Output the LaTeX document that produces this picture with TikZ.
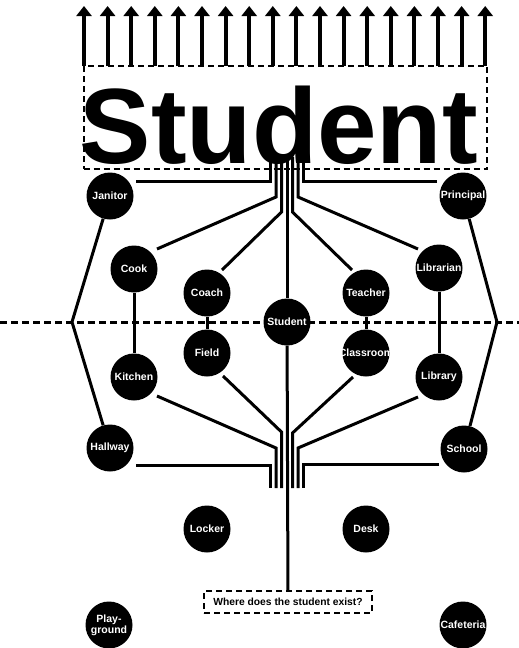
\documentclass[tikz,border=0pt]{standalone}
\usepackage{fontspec}
\setsansfont{Liberation Sans}
\usetikzlibrary{arrows.meta}

\begin{document}
\begin{tikzpicture}[
  x=1pt, y=-1pt,
  place/.style={circle, fill=black, minimum size=47pt, inner sep=0pt, text=white,
    font=\sffamily\bfseries\fontsize{10.5}{11}\selectfont, align=center},
  wire/.style={line width=3pt},
  dashbox/.style={draw, line width=2pt, dash pattern=on 6pt off 4pt, inner sep=0pt, outer sep=0pt},
  uparrow/.style={line width=4pt, -{Triangle[width=15pt, length=10pt]}}
]
\useasboundingbox (0,0) rectangle (519,648);

% Title with arrows
\node[dashbox, minimum width=403.5pt, minimum height=103pt] (titlebox) at (285.25,117.5) {};
\node[anchor=base west, inner sep=0pt, font=\sffamily\bfseries\fontsize{107}{107}\selectfont] (title) at (79.5,163.5) {Student};
\foreach \i in {0,...,17}
  \draw[uparrow] ([xshift=\i*23.6pt+0.5pt]titlebox.north west) -- ++(0,-60);

% Dashed middle line
\draw[line width=3pt, dash pattern=on 7pt off 4pt] (0,322) -- (519,322);

% People and places
\node[place] (janitor) at (110,196) {Janitor};
\node[place] (principal) at (463,196) {\makebox[0pt]{Principal}};
\node[place] (cook) at (134,269) {Cook};
\node[place] (librarian) at (439,268) {\makebox[0pt]{Librarian}};
\node[place] (coach) at (207,293) {Coach};
\node[place] (teacher) at (366,293) {Teacher};
\node[place] (student) at (287,322) {Student};
\node[place] (field) at (207,353) {Field};
\node[place] (classroom) at (366,353) {\makebox[0pt]{Classroom}};
\node[place] (kitchen) at (134,377) {Kitchen};
\node[place] (library) at (439,377) {Library};
\node[place] (hallway) at (110,448) {Hallway};
\node[place] (school) at (464,449) {School};
\node[place] (locker) at (207,529) {Locker};
\node[place] (desk) at (366,529) {Desk};
\node[place] (playground) at (109,625) {Play-\\ground};
\node[place] (cafeteria) at (463,625) {\makebox[0pt]{Cafeteria}};

\node[dashbox, minimum width=168pt, minimum height=22pt,
  font=\sffamily\bfseries\fontsize{10.3}{12}\selectfont] (question) at (288,602) {Where does the student exist?};

% Outer frame
\coordinate (pl) at (72,322);
\coordinate (pr) at (497,322);
\draw[wire] (janitor) -- (pl) -- (hallway);
\draw[wire] (principal) -- (pr) -- (school);

% Pairs
\draw[wire] (cook) -- (kitchen);
\draw[wire] (coach) -- (field);
\draw[wire] (teacher) -- (classroom);
\draw[wire] (librarian) -- (library);

% Top bus
\coordinate (t1) at (270.5,157);
\coordinate (t2) at (276,157);
\coordinate (t3) at (281.5,157);
\coordinate (t4) at (287,157);
\coordinate (t5) at (292.5,157);
\coordinate (t6) at (298,157);
\coordinate (t7) at (303.5,157);
\coordinate (k2) at (276,197);
\coordinate (k3) at (281.5,212);
\coordinate (k5) at (292.5,212);
\coordinate (k6) at (298,197);
\draw[wire] ([shift={(26,-15)}]janitor.center) -| (t1);
\draw[wire] ([shift={(23,-20)}]cook.center) -- (k2) -- (t2);
\draw[wire] ([shift={(15,-23)}]coach.center) -- (k3) -- (t3);
\draw[wire] (t4) -- (student);
\draw[wire] ([shift={(-14,-23)}]teacher.center) -- (k5) -- (t5);
\draw[wire] ([shift={(-21,-19)}]librarian.center) -- (k6) -- (t6);
\draw[wire] ([shift={(-26,-15)}]principal.center) -| (t7);

% Bottom bus
\coordinate (b1) at (270.5,488);
\coordinate (b2) at (276,488);
\coordinate (b3) at (281.5,488);
\coordinate (b5) at (292.5,488);
\coordinate (b6) at (298,488);
\coordinate (b7) at (303.5,488);
\coordinate (m2) at (276,448);
\coordinate (m3) at (281.5,432);
\coordinate (m5) at (292.5,433);
\coordinate (m6) at (298,448);
\draw[wire] ([shift={(26,17)}]hallway.center) -| (b1);
\draw[wire] ([shift={(23,19)}]kitchen.center) -- (m2) -- (b2);
\draw[wire] ([shift={(16,23)}]field.center) -- (m3) -- (b3);
\draw[wire] (student) -- (question);
\draw[wire] ([shift={(-13,24)}]classroom.center) -- (m5) -- (b5);
\draw[wire] ([shift={(-21,20)}]library.center) -- (m6) -- (b6);
\draw[wire] ([shift={(-25,15)}]school.center) -| (b7);

\end{tikzpicture}
\end{document}
